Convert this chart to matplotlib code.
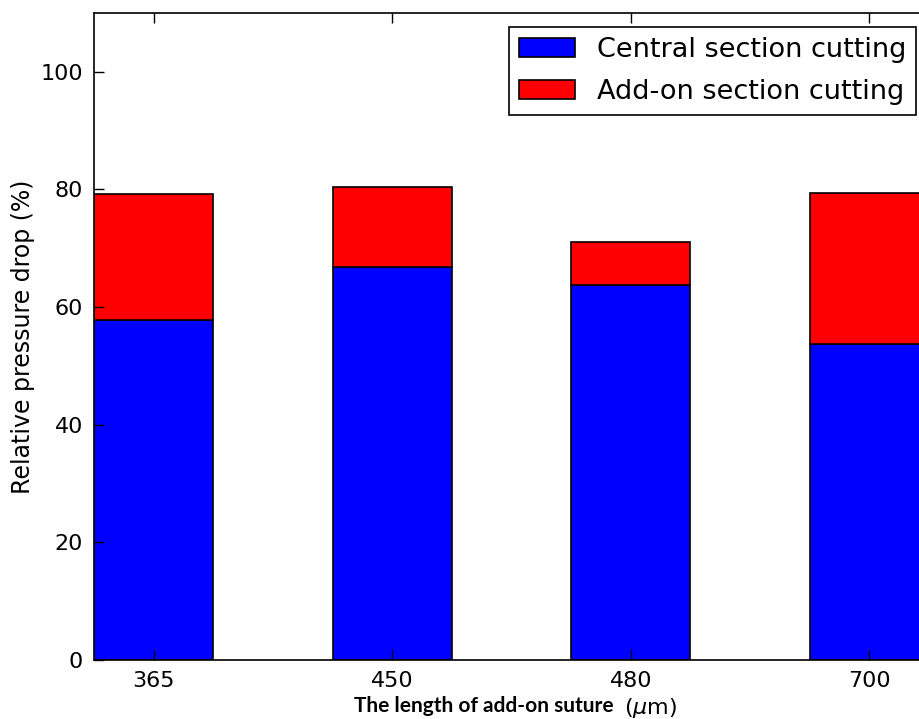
import matplotlib
matplotlib.use("Agg")
import matplotlib.pyplot as plt
import numpy as np

categories = ["365", "450", "480", "700"]
central = [57.8, 66.8, 63.8, 53.7]
addon = [21.4, 13.6, 7.3, 25.7]
labels = ["Central section cutting", "Add-on section cutting"]
yticks = [0, 20, 40, 60, 80, 100]

fig = plt.figure(figsize=(9.2, 7.19), dpi=100)
ax = fig.add_axes([94 / 920, 59 / 719, (929 - 94) / 920, (660 - 13) / 719])

x = np.arange(len(categories))
w = 0.5
ax.bar(x, central, w, color="#0000ff", edgecolor="black", linewidth=1.2,
       label=labels[0])
ax.bar(x, addon, w, bottom=central, color="#ff0000", edgecolor="black",
       linewidth=1.2, label=labels[1])

ax.set_xlim(-0.25, 3.25)
ax.set_ylim(0, 110)
ax.set_xticks(x)
ax.set_xticklabels(categories)
ax.set_yticks(yticks)
ax.tick_params(direction="in", top=True, right=True, length=7, width=1,
               labelsize=16, pad=8, colors="black")
for s in ax.spines.values():
    s.set_linewidth(1.2)

ax.set_ylabel("Relative pressure drop (%)", fontsize=17, labelpad=4)

fig.text(354 / 920, 1 - 706 / 719, "The length of add-on suture",
         fontsize=15, fontweight="bold", family="Lato", va="center",
         ha="left")
fig.text(624 / 920, 1 - 708 / 719, r"($\mu$m)", fontsize=16, va="center",
         ha="left")

leg = ax.legend(loc="upper right", bbox_to_anchor=(916 / 920, 1 - 27 / 719),
                bbox_transform=fig.transFigure, borderaxespad=0,
                fontsize=19.5, fancybox=False, framealpha=1, edgecolor="black",
                handlelength=2.07, handleheight=0.7, labelspacing=0.58,
                handletextpad=0.78, borderpad=0.37)
leg.get_frame().set_linewidth(1.2)

fig.savefig("out.png", dpi=100)
